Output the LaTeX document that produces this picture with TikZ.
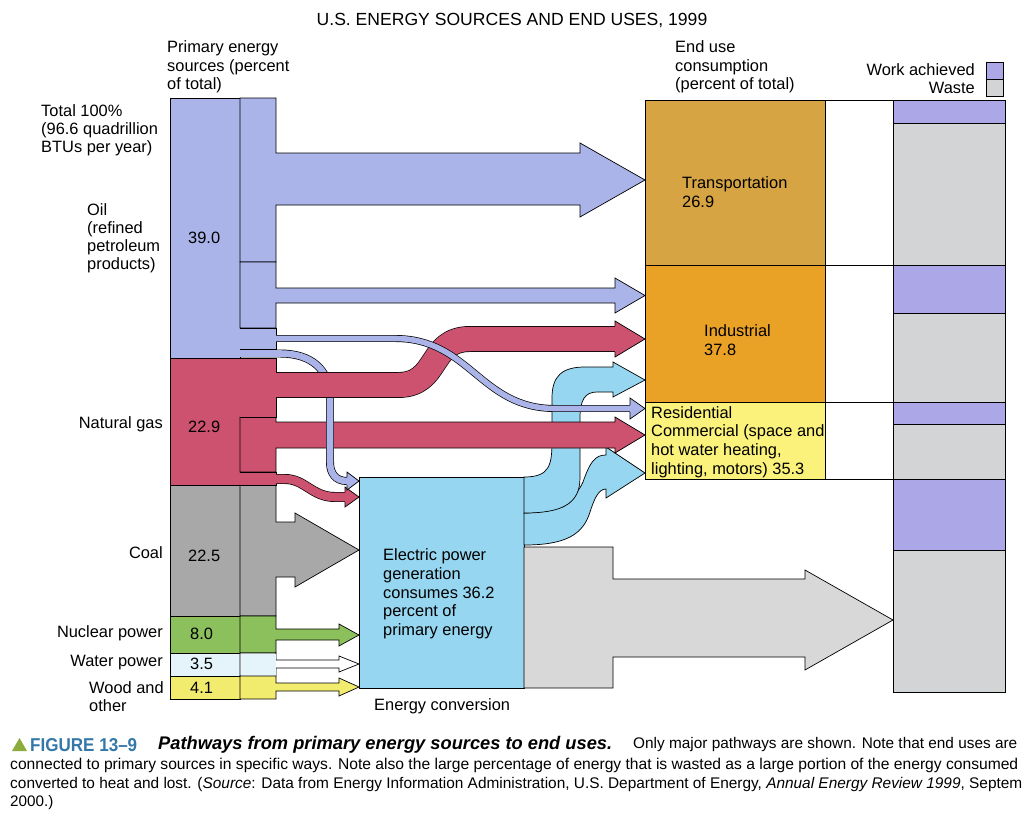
\documentclass[tikz,border=0pt]{standalone}
\usepackage{fontspec}
\usepackage{graphicx}
\setmainfont{Liberation Sans}

\definecolor{oilcol}{RGB}{170,180,232}
\definecolor{gascol}{RGB}{204,82,112}
\definecolor{coalcol}{RGB}{168,168,168}
\definecolor{nuccol}{RGB}{140,192,92}
\definecolor{watercol}{RGB}{228,244,250}
\definecolor{woodcol}{RGB}{242,236,110}
\definecolor{eleccol}{RGB}{150,214,240}
\definecolor{heatcol}{RGB}{216,216,216}
\definecolor{transcol}{RGB}{214,164,66}
\definecolor{indcol}{RGB}{234,162,38}
\definecolor{rescol}{RGB}{250,242,122}
\definecolor{workcol}{RGB}{172,168,232}
\definecolor{wastecol}{RGB}{210,212,214}
\definecolor{figblue}{RGB}{52,120,170}
\definecolor{figgreen}{RGB}{140,172,62}

\tikzset{
  lbl/.style={inner sep=0pt, align=left, font=\fontsize{14}{15.5}\selectfont},
  boxtext/.style={inner sep=0pt, align=left, font=\fontsize{14}{16}\selectfont},
  flowedge/.style={draw=black, line width=0.6pt},
  pipe/.style={draw=black, line width=0.6pt, double=#1, line cap=butt},
}

\begin{document}
\begin{tikzpicture}[x=0.03cm, y=-0.03cm]
	\useasboundingbox (0,0) rectangle (1024,835);
	
	\node[font=\fontsize{15}{15}\selectfont] (title) at (512,20) {U.S. ENERGY SOURCES AND END USES, 1999};
	\node[boxtext, anchor=west] (srchead) at (167,67) {Primary energy\\sources (percent\\of total)};
	\node[boxtext, anchor=west] (usehead) at (675,67) {End use\\consumption\\(percent of total)};
	
	% end use boxes
	\filldraw[flowedge, fill=transcol] (645,100) rectangle (825,265);
	\filldraw[flowedge, fill=indcol] (645,265) rectangle (825,402);
	\filldraw[flowedge, fill=rescol] (645,402) rectangle (825,479);
	\draw[flowedge] (825,100) -- (893,100) (825,265) -- (893,265) (825,402) -- (893,402) (825,479) -- (893,479);
	\node[boxtext, anchor=west] (trans) at (682,192) {Transportation\\26.9};
	\node[boxtext, anchor=west] (ind) at (704,340) {Industrial\\37.8};
	\node[boxtext, anchor=west] (res) at (651,442) {Residential\\Commercial (space and\\hot water heating,\\lighting, motors) 35.3};
	
	% work achieved / waste
	\foreach \ya/\yb/\c in {100/123/workcol, 123/265/wastecol, 265/313/workcol, 313/402/wastecol, 402/424/workcol, 424/479/wastecol, 479/550/workcol, 550/692/wastecol}
		\filldraw[flowedge, fill=\c] (893,\ya) rectangle (1005,\yb);
	\filldraw[flowedge, fill=workcol] (986,62) rectangle (1003,79);
	\filldraw[flowedge, fill=wastecol] (986,79) rectangle (1003,96);
	\node[lbl, anchor=east] (work) at (975,70) {Work achieved};
	\node[lbl, anchor=east] (waste) at (975,88) {Waste};
	
	% energy conversion
	\filldraw[flowedge, fill=eleccol] (359,477) rectangle (524,688);
	\filldraw[flowedge, fill=eleccol] (524,513) .. controls (555,513) and (575,500) .. (583,482) .. controls (590,462) and (595,455) .. (606,455) -- (606,447) -- (645,473) -- (606,498) -- (606,489) .. controls (598,489) and (594,500) .. (590,512) .. controls (583,535) and (565,545) .. (524,545) -- cycle;
	\filldraw[flowedge, fill=eleccol] (524,477) .. controls (550,477) and (552,465) .. (552,440) -- (552,398) .. controls (552,376) and (562,367) .. (585,367) -- (613,367) -- (613,362) -- (645,380) -- (613,397) -- (613,392) -- (597,392) .. controls (585,392) and (580,400) .. (580,418) -- (580,478) .. controls (580,505) and (560,513) .. (524,513) -- cycle;
	\filldraw[flowedge, fill=heatcol] (524,547) -- (613,547) -- (613,579) -- (805,579) -- (805,570) -- (893,620) -- (805,670) -- (805,657) -- (613,657) -- (613,688) -- (524,688) -- cycle;
	\node[boxtext, anchor=west] (elec) at (383,594) {Electric power\\generation\\consumes 36.2\\percent of\\primary energy};
	\node[boxtext, anchor=west] (conv) at (374,706) {Energy conversion};
	
	% primary sources
	\foreach \ya/\yb/\c in {98/358/oilcol, 358/485/gascol, 485/616/coalcol, 616/653/nuccol, 653/676/watercol, 676/699/woodcol}
		\filldraw[flowedge, fill=\c] (170,\ya) rectangle (240,\yb);
	
	\node[lbl, anchor=west] (total) at (41,130) {Total 100\%\\(96.6 quadrillion\\BTUs per year)};
	\node[lbl, anchor=west] (oil) at (87,238) {Oil\\(refined\\petroleum\\products)};
	\node[lbl, anchor=east] (gas) at (163,424) {Natural gas};
	\node[lbl, anchor=east] (coal) at (163,553) {Coal};
	\node[lbl, anchor=east] (nuc) at (163,633) {Nuclear power};
	\node[lbl, anchor=east] (water) at (163,663) {Water power};
	\node[lbl, anchor=west] (wood) at (89,697) {Wood and\\other};
	\node[lbl, anchor=west] (oilval) at (188,238) {39.0};
	\node[lbl, anchor=west] (gasval) at (188,427) {22.9};
	\node[lbl, anchor=west] (coalval) at (188,556) {22.5};
	\node[lbl, anchor=west] (nucval) at (190,634) {8.0};
	\node[lbl, anchor=west] (waterval) at (190,664) {3.5};
	\node[lbl, anchor=west] (woodval) at (190,688) {4.1};
	
	% straight flows
	\filldraw[flowedge, fill=oilcol] (240,98) -- (276,98) -- (276,153) -- (580,153) -- (580,143) -- (645,180) -- (580,217) -- (580,205) -- (276,205) -- (276,262) -- (240,262) -- cycle;
	\filldraw[flowedge, fill=oilcol] (240,262) -- (276,262) -- (276,288) -- (615,288) -- (615,278) -- (645,295.5) -- (615,313) -- (615,303) -- (276,303) -- (276,328) -- (240,328) -- cycle;
	\filldraw[flowedge, fill=coalcol] (240,485) -- (276,485) -- (276,522) -- (295,522) -- (295,513) -- (359,550) -- (295,587) -- (295,577) -- (276,577) -- (276,616) -- (240,616) -- cycle;
	\filldraw[flowedge, fill=nuccol] (240,616) -- (276,616) -- (276,629) -- (339,629) -- (339,624) -- (359,635) -- (339,646) -- (339,640) -- (276,640) -- (276,653) -- (240,653) -- cycle;
	\filldraw[flowedge, fill=white] (240,653) -- (276,653) -- (276,660) -- (339,660) -- (339,656) -- (359,664) -- (339,672) -- (339,668) -- (276,668) -- (276,676) -- (240,676) -- cycle;
	\fill[watercol] (240.5,653.5) rectangle (275.5,675.5);
	\filldraw[flowedge, fill=woodcol] (240,676) -- (276,676) -- (276,683) -- (339,683) -- (339,678) -- (359,687) -- (339,696) -- (339,691) -- (276,691) -- (276,699) -- (240,699) -- cycle;
	\filldraw[flowedge, fill=gascol] (240,417) -- (276,417) -- (276,422) -- (615,422) -- (615,417) -- (645,435) -- (615,453) -- (615,448) -- (276,448) -- (276,472) -- (240,472) -- cycle;
	
	% gas to electric
	\fill[gascol] (240,472) rectangle (276,485);
	\draw[flowedge] (240,472) -- (276,472) -- (276,474) (276,484) -- (276,485) -- (240,485);
	\draw[pipe=gascol, double distance=7.3pt] (276,479) -- (285,479) .. controls (305,479) and (312,497) .. (335,497) -- (345,497);
	\fill[gascol] (345,487) -- (359,497) -- (345,507) -- cycle;
	\draw[flowedge] (345,492) -- (345,487) -- (359,497) -- (345,507) -- (345,502);
	
	% oil to electric
	\draw[pipe=oilcol, double distance=5.6pt] (240,353.5) -- (280,353.5) .. controls (312,353.5) and (330,370) .. (330,398) -- (330,462) .. controls (330,474) and (336,481) .. (347,481);
	\fill[oilcol] (347,472) -- (359,481) -- (347,490) -- cycle;
	\draw[flowedge] (347,477) -- (347,472) -- (359,481) -- (347,490) -- (347,485);
	
	% gas to industrial
	\fill[gascol] (240,358) rectangle (276,417);
	\draw[flowedge] (240,358) -- (276,358) -- (276,372) (276,398) -- (276,417) -- (240,417);
	\draw[pipe=gascol, double distance=20.9pt] (276,385) -- (398,385) .. controls (440,385) and (428,339) .. (470,339) -- (615,339);
	\fill[gascol] (615,321) -- (645,339) -- (615,357) -- cycle;
	\draw[flowedge] (615,326) -- (615,321) -- (645,339) -- (615,357) -- (615,352);
	
	% oil to residential
	\fill[oilcol] (240,328) rectangle (276,349);
	\draw[flowedge] (240,328) -- (276,328) -- (276,335) (276,342) -- (276,349) -- (240,349);
	\draw[pipe=oilcol, double distance=4.75pt] (276,338.5) -- (395,338.5) .. controls (470,338.5) and (480,408.5) .. (555,408.5) -- (630,408.5);
	\fill[oilcol] (630,398) -- (645,408.5) -- (630,419) -- cycle;
	\draw[flowedge] (630,405) -- (630,398) -- (645,408.5) -- (630,419) -- (630,412);
	
	% caption
	\fill[figgreen] (12,751) -- (19.5,738) -- (27,751) -- cycle;
	\node[anchor=west, inner sep=0pt, text=figblue] (fignum) at (30,745) {\resizebox{3.21cm}{0.39cm}{\fontsize{15}{15}\selectfont\bfseries FIGURE 13–9}};
	\node[anchor=west, inner sep=0pt] (figtitle) at (158,745) {\resizebox{13.62cm}{!}{\fontsize{13}{13}\selectfont\bfseries\itshape Pathways from primary energy sources to end uses.}};
	\node[anchor=west, inner sep=0pt] (cap1) at (633,745) {\resizebox{11.52cm}{!}{\fontsize{13}{13}\selectfont Only major pathways are shown. Note that end uses are}};
	\node[anchor=west, inner sep=0pt] (cap2) at (10,765) {\resizebox{30.24cm}{!}{\fontsize{13}{13}\selectfont connected to primary sources in specific ways. Note also the large percentage of energy that is wasted as a large portion of the energy consumed}};
	\node[anchor=west, inner sep=0pt] (cap3) at (10,785) {\resizebox{30.36cm}{!}{\fontsize{13}{13}\selectfont converted to heat and lost. (\textit{Source}: Data from Energy Information Administration, U.S. Department of Energy, \textit{Annual Energy Review 1999}, Septem}};
	\node[anchor=west, inner sep=0pt, font=\fontsize{13}{13}\selectfont] (cap4) at (10,803) {2000.)};
\end{tikzpicture}
\end{document}
